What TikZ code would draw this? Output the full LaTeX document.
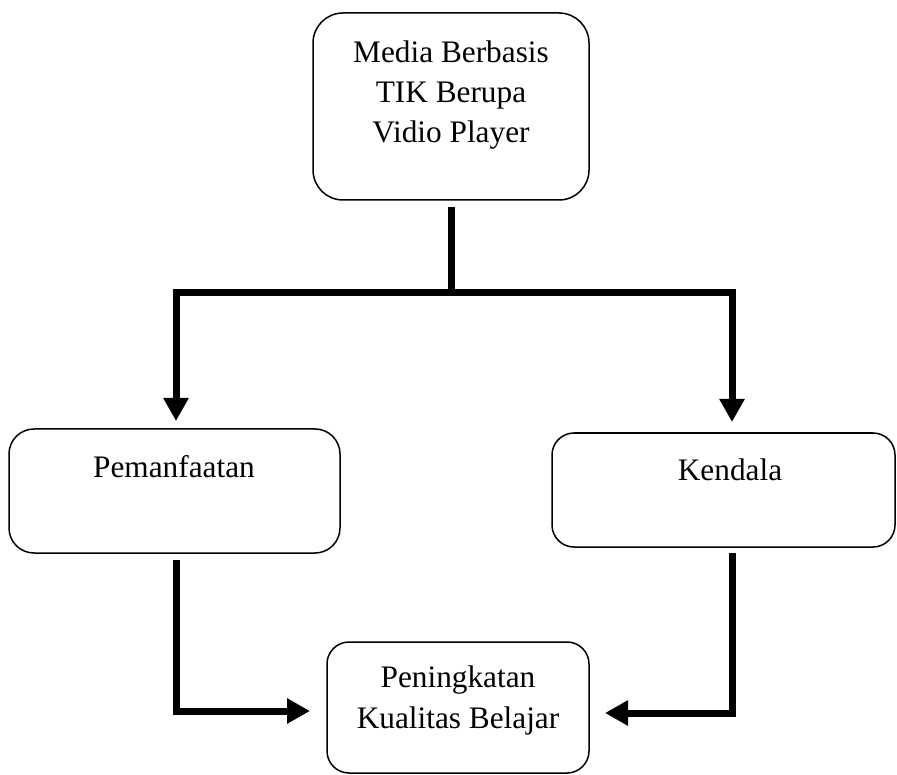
\documentclass[tikz,border=0pt]{standalone}
\usepackage{fontspec}
\setmainfont{Liberation Serif}
\usetikzlibrary{arrows.meta,calc}
\begin{document}
\begin{tikzpicture}[x=1pt,y=-1pt,
  box/.style={draw=black, line width=1.5pt, rectangle, inner sep=0pt},
  txt/.style={anchor=base, inner sep=0pt, font=\fontsize{31.3}{40}\selectfont},
  conn/.style={draw=black, line width=7pt, line join=miter},
  tip/.style={-{Triangle[length=23pt,width=24pt]}}]
\useasboundingbox (0,0) rectangle (897,775);
% boxes
\node[box, rounded corners=30pt, minimum width=276pt, minimum height=187pt] (top) at (451,106.5) {};
\node[box, rounded corners=25pt, minimum width=331pt, minimum height=124pt] (pem) at (174.5,491) {};
\node[box, rounded corners=22pt, minimum width=343pt, minimum height=114pt] (ken) at (723.5,490) {};
\node[box, rounded corners=22pt, minimum width=262pt, minimum height=131pt] (hasil) at (458,707.5) {};
% texts
\node[txt] (t1) at (451,63) {Media Berbasis};
\node[txt] (t2) at (451,103) {TIK Berupa};
\node[txt] (t3) at (451,143) {Vidio Player};
\node[txt] (tp) at (174,477) {Pemanfaatan};
\node[txt] (tk) at (730,480) {Kendala};
\node[txt] (th1) at (458,687) {Peningkatan};
\node[txt] (th2) at (458,728) {Kualitas Belajar};
% connector points
\coordinate (s0) at ($(top.south)+(0,6)$);
\coordinate (j) at (451,293);
\coordinate (pemin) at (176,421);
\coordinate (kenin) at (732,422);
\coordinate (pemout) at (176,560);
\coordinate (kenout) at (732,553);
\coordinate (hl) at (310,711);
\coordinate (hr) at (605,713);
% connectors
\draw[conn] (s0) -- (j);
\draw[conn, tip] (j) -| (pemin);
\draw[conn, tip] (j) -| (kenin);
\draw[conn, tip] (pemout) |- (hl);
\draw[conn, tip] (kenout) |- (hr);
\end{tikzpicture}
\end{document}
